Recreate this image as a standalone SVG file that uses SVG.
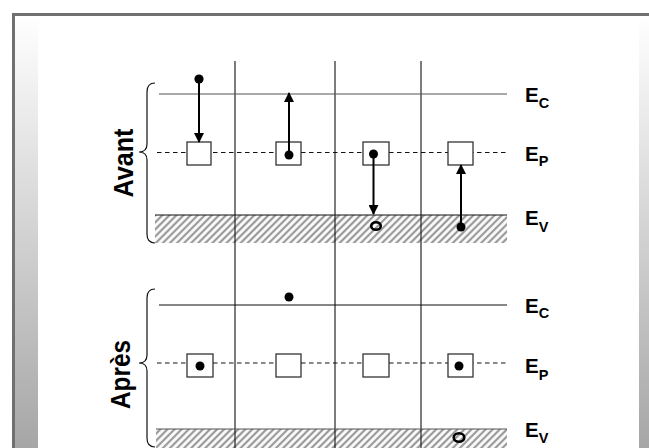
<svg xmlns="http://www.w3.org/2000/svg" width="649" height="448" viewBox="0 0 649 448">
<style>
.lvl{stroke:#111;stroke-width:1.2;fill:none}
.ec1{stroke:#555}
.dash{stroke:#111;stroke-width:1.1;stroke-dasharray:4.5,3.5;fill:none}
.vline{stroke:#111;stroke-width:1.1}
.box{fill:#fff;stroke:#333;stroke-width:1.3}
.dot{fill:#000}
.hole{fill:none;stroke:#000;stroke-width:2.6}
.arrow{stroke:#000;stroke-width:2;fill:none;marker-end:url(#ah)}
.brace{fill:none;stroke:#111;stroke-width:1.2}
.lbl{font-family:"Liberation Sans",Arial,sans-serif;font-weight:bold;font-size:20.5px;fill:#000}
.sub{font-size:14.5px}
.side{font-family:"Liberation Sans",Arial,sans-serif;font-weight:bold;font-size:28px;fill:#000}
</style>
<defs>
<linearGradient id="sideg" gradientUnits="userSpaceOnUse" x1="0" y1="16" x2="0" y2="448">
<stop offset="0" stop-color="#ffffff"/>
<stop offset="1" stop-color="#a6a6a6"/>
</linearGradient>
<pattern id="hatch" patternUnits="userSpaceOnUse" width="5" height="5" patternTransform="rotate(45)">
<rect width="5" height="5" fill="#fff"/>
<line x1="2" y1="0" x2="2" y2="5" stroke="#9a9a9a" stroke-width="2.3"/>
</pattern>
<marker id="ah" markerUnits="userSpaceOnUse" markerWidth="10" markerHeight="10" refX="9" refY="5" orient="auto">
<path d="M0,0 L10,5 L0,10 z" fill="#000"/>
</marker>
</defs>

<g id="frame">
<rect x="0" y="0" width="649" height="448" fill="#fff"/>
<rect x="15" y="16" width="23" height="432" fill="url(#sideg)"/>
<rect x="639" y="16" width="10" height="432" fill="url(#sideg)"/>
<rect x="12" y="13" width="3" height="435" fill="#707070"/>
<rect x="12" y="13" width="637" height="3" fill="#707070"/>
</g>

<g id="bands">
<rect x="155" y="215" width="352" height="28" fill="url(#hatch)"/>
<rect x="156" y="429" width="351" height="19" fill="url(#hatch)"/>
</g>

<g id="grid">
<line class="vline" x1="235" y1="61" x2="235" y2="448"/>
<line class="vline" x1="335" y1="61" x2="335" y2="448"/>
<line class="vline" x1="421" y1="61" x2="421" y2="448"/>
</g>

<g id="avant-levels">
<line class="lvl ec1" x1="159" y1="94" x2="507" y2="94"/>
<line class="dash" x1="157" y1="152.5" x2="507" y2="152.5"/>
<line class="lvl" x1="155" y1="215" x2="507" y2="215"/>
</g>
<g id="apres-levels">
<line class="lvl" x1="159" y1="305" x2="507" y2="305"/>
<line class="dash" x1="157" y1="363" x2="507" y2="363"/>
<line class="lvl ec1" x1="156" y1="429" x2="507" y2="429"/>
</g>

<g id="avant-brace"><path class="brace" d="M155,83 Q147,83 147,92 L147,144 Q147,152 139,152 Q147,152 147,160 L147,234 Q147,243 155,243"/></g>
<g id="apres-brace"><path class="brace" d="M155,289 Q147,289 147,298 L147,355 Q147,363 139,363 Q147,363 147,371 L147,438 Q147,447 155,447"/></g>

<g id="avant-label"><text class="side" transform="translate(133,163) rotate(-90)" text-anchor="middle" textLength="69" lengthAdjust="spacingAndGlyphs">Avant</text></g>
<g id="apres-label"><text class="side" transform="translate(130,374.5) rotate(-90)" text-anchor="middle" textLength="69" lengthAdjust="spacingAndGlyphs">Après</text></g>

<g id="avant-1"><rect class="box" x="187" y="142" width="24" height="23"/><circle class="dot" cx="199" cy="79" r="4.6"/></g>
<g id="avant-2"><rect class="box" x="276" y="142" width="25" height="23"/><circle class="dot" cx="289" cy="155" r="4.5"/></g>
<g id="avant-3"><rect class="box" x="363" y="142" width="26" height="23"/><circle class="dot" cx="373.5" cy="154" r="4.5"/><ellipse class="hole" cx="376" cy="226" rx="4.8" ry="3.8"/></g>
<g id="avant-4"><rect class="box" x="448" y="142" width="25" height="23"/><circle class="dot" cx="461" cy="227" r="4.5"/></g>

<g id="apres-1"><rect class="box" x="187" y="354" width="26" height="23"/><circle class="dot" cx="200" cy="366" r="4.5"/></g>
<g id="apres-2"><rect class="box" x="276" y="354" width="25" height="23"/><circle class="dot" cx="289" cy="297" r="4.5"/></g>
<g id="apres-3"><rect class="box" x="363" y="354" width="26" height="23"/></g>
<g id="apres-4"><rect class="box" x="448" y="354" width="25" height="23"/><circle class="dot" cx="459" cy="366" r="4.5"/><ellipse class="hole" cx="459" cy="437.5" rx="5.3" ry="4.2"/></g>

<g id="connectors">
<line class="arrow" x1="199" y1="83" x2="199" y2="142"/>
<line class="arrow" x1="289" y1="151" x2="289" y2="93"/>
<line class="arrow" x1="373.5" y1="158" x2="373.5" y2="214"/>
<line class="arrow" x1="461" y1="223" x2="461" y2="165"/>
</g>

<g id="labels">
<text class="lbl" x="525" y="102">E<tspan class="sub" dy="5.5">C</tspan></text>
<text class="lbl" x="525" y="161">E<tspan class="sub" dy="5">P</tspan></text>
<text class="lbl" x="525" y="225">E<tspan class="sub" dy="6.5">V</tspan></text>
<text class="lbl" x="525" y="312.7">E<tspan class="sub" dy="5.5">C</tspan></text>
<text class="lbl" x="525" y="373">E<tspan class="sub" dy="6.5">P</tspan></text>
<text class="lbl" x="525" y="437">E<tspan class="sub" dy="6">V</tspan></text>
</g>
</svg>
